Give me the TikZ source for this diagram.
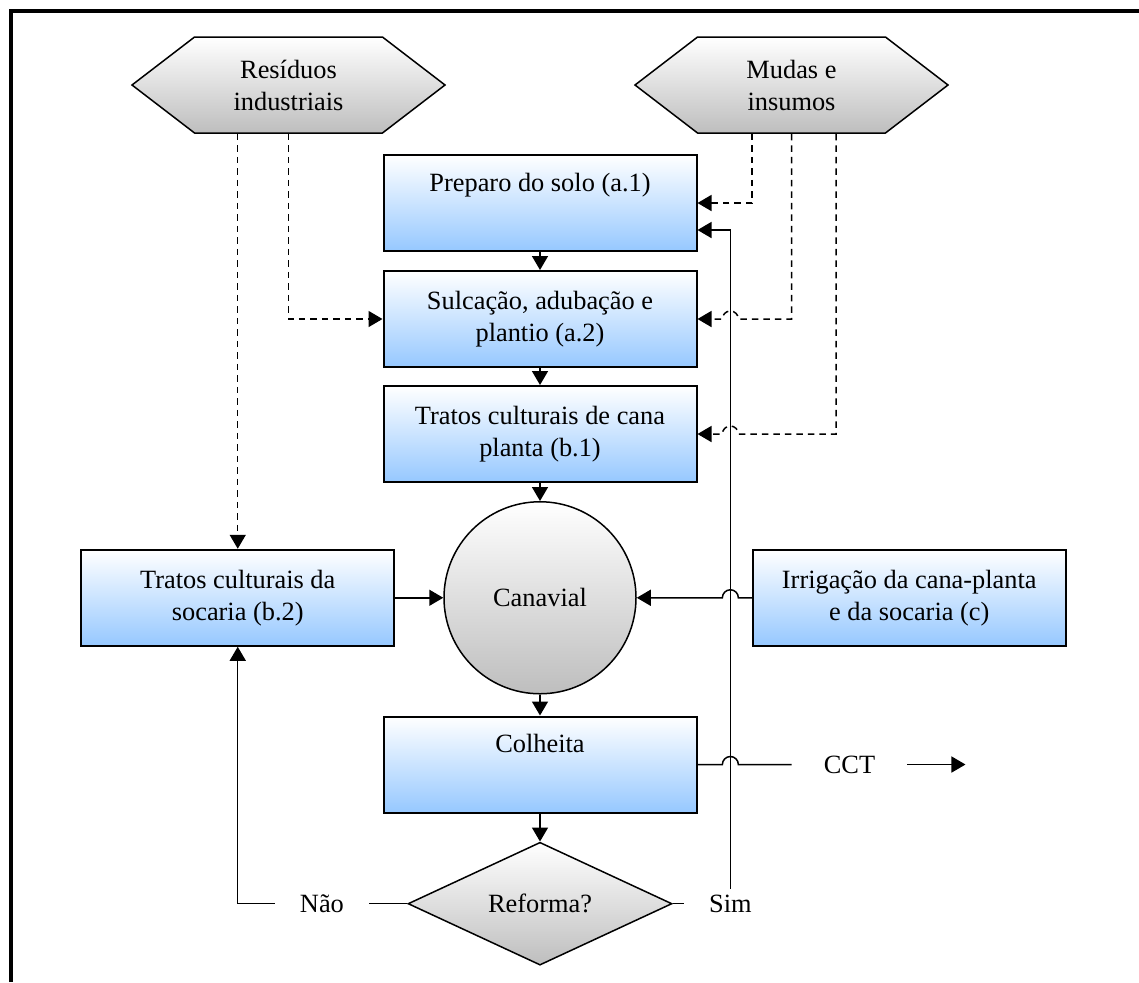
\documentclass[tikz,border=0pt]{standalone}
\usepackage{fontspec}
\setmainfont{Liberation Serif}
\usetikzlibrary{positioning}
\usetikzlibrary{shapes.geometric}
\usetikzlibrary{shapes.symbols}
\usetikzlibrary{arrows.meta}
\usetikzlibrary{calc}

\definecolor{boxblue}{RGB}{150,200,255}
\definecolor{shadegray}{RGB}{190,190,190}

\begin{document}
\begin{tikzpicture}[x=0.2mm,y=-0.2mm,
		font=\fontsize{15}{18.2}\selectfont,
		etapa/.style={draw,line width=0.4mm,rectangle,top color=white,bottom color=boxblue,minimum width=62.6mm,minimum height=19.2mm,align=center},
		fonte/.style={draw,line width=0.3mm,signal,signal to=west and east,signal pointer angle=75,top color=white,bottom color=shadegray,minimum width=62.6mm,minimum height=19.2mm,align=center},
		rotulo/.style={inner xsep=5mm},
		linha/.style={line width=0.3mm},
		fluxo/.style={linha,-{Triangle[length=2.8mm,width=3.2mm]}},
		insumo/.style={fluxo,dash pattern=on 1.3mm off 1mm}]
		\useasboundingbox (0,0) rectangle (1139,982);
		\draw[line width=0.8mm] (11,982) -- (11,11) -- (1139,11);

		\node[etapa] at (540,203) (prep) {Preparo do solo (a.1)\\\strut};
		\node[etapa,below = 3.6mm of prep] (sulc) {Sulcação, adubação e\\plantio (a.2)};
		\node[etapa,below = 3.4mm of sulc] (cana) {Tratos culturais de cana\\planta (b.1)};
		\node[circle,draw,linha,top color=white,bottom color=shadegray,minimum size=38.4mm,below = 3.6mm of cana] (can) {Canavial};
		\node[etapa,below = 4.2mm of can] (colh) {Colheita\\\strut};
		\node[diamond,draw,linha,top color=white,bottom color=shadegray,minimum width=52.8mm,minimum height=23.4mm,inner sep=0pt,below = 5.6mm of colh] (ref) {Reforma?};
		\node[etapa,left = 9.6mm of can] (soc) {Tratos culturais da\\socaria (b.2)};
		\node[etapa,right = 23mm of can] (irr) {Irrigação da cana-planta\\e da socaria (c)};
		\node[fonte] at (288.5,85) (res) {Resíduos\\industriais};
		\node[fonte] at (791.5,85) (mud) {Mudas e\\insumos};
		\node[rotulo,left = 7.6mm of ref] (nao) {Não};
		\node[rotulo,right = 2.2mm of ref] (sim) {Sim};
		\node[inner xsep=6.4mm,right = 18.8mm of colh] (cct) {CCT};
		\coordinate[right = 11.6mm of cct] (sai);

		\draw[fluxo] (prep) to (sulc);
		\draw[fluxo] (sulc) to (cana);
		\draw[fluxo] (cana) to (can);
		\draw[fluxo] (can) to (colh);
		\draw[fluxo] (colh) to (ref);
		\draw[fluxo] (soc) to (can);
		\draw[fluxo] (irr.west) -- ($(sim.north |- irr.west)+(1.6mm,0)$) arc[start angle=0,end angle=180,radius=1.6mm] -- (can.east);
		\draw[linha] (colh.east) -- ($(sim.north |- colh.east)+(-1.6mm,0)$) arc[start angle=180,end angle=0,radius=1.6mm] -- (cct.west);
		\draw[fluxo] (cct.east) to (sai);
		\draw[linha] (ref.west) to (nao.east);
		\draw[fluxo] (nao.west) -| (soc.south);
		\draw[linha] (ref.east) to (sim.west);
		\draw[fluxo] (sim.north) |- ([yshift=-5.4mm]prep.east);

		\draw[insumo] (res.south -| soc.north) to (soc.north);
		\draw[insumo] (res.south) |- (sulc.west);
		\draw[insumo] ([xshift=-7.9mm]mud.south) |- (prep.east);
		\draw[insumo] (mud.south) |- ($(sim.north |- sulc.east)+(1.6mm,0)$) arc[start angle=0,end angle=180,radius=1.6mm] -- (sulc.east);
		\draw[insumo] ([xshift=8.9mm]mud.south) |- ($(sim.north |- cana.east)+(1.6mm,0)$) arc[start angle=0,end angle=180,radius=1.6mm] -- (cana.east);
	\end{tikzpicture}
\end{document}
